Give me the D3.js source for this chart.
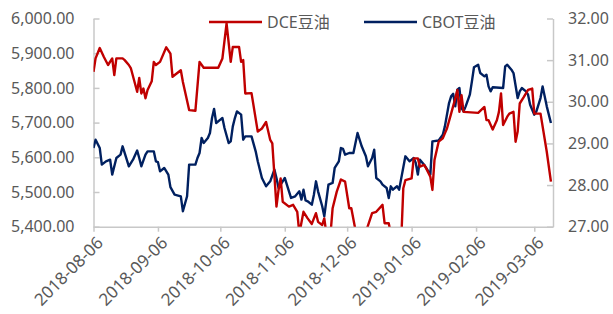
<!DOCTYPE html>
<html>
<head>
<meta charset="utf-8">
<script src="https://cdn.jsdelivr.net/npm/d3@7/dist/d3.min.js"></script>
<style>
body { margin: 0; background: #fff; }
svg text { font-family: "Noto Sans", "Noto Sans CJK SC", sans-serif; fill: #595959; font-size: 16px; }
.x.axis text { font-size: 17px; }
.axis path, .axis line { stroke: #c8c8c8; stroke-width: 1.5; }
.dce { fill: none; stroke: #c00000; stroke-width: 2.4; stroke-linejoin: round; }
.cbot { fill: none; stroke: #002060; stroke-width: 2.4; stroke-linejoin: round; }
</style>
</head>
<body>
<div id="chart"></div>
<script>
// DCE soybean oil (left axis, yuan/t)
const dceDates = [
  "2018-08-06","2018-08-07","2018-08-09","2018-08-11","2018-08-13","2018-08-15","2018-08-16","2018-08-17","2018-08-20","2018-08-21",
  "2018-08-23","2018-08-24","2018-08-27","2018-08-28","2018-08-29","2018-08-30","2018-08-31","2018-09-01","2018-09-03","2018-09-04",
  "2018-09-05","2018-09-07","2018-09-10","2018-09-12","2018-09-13","2018-09-17","2018-09-18","2018-09-21","2018-09-24","2018-09-26",
  "2018-09-28","2018-10-05","2018-10-07","2018-10-09","2018-10-11","2018-10-12","2018-10-15","2018-10-16","2018-10-17","2018-10-18",
  "2018-10-21","2018-10-24","2018-10-26","2018-10-28","2018-10-30","2018-10-31","2018-11-02","2018-11-03","2018-11-04","2018-11-05",
  "2018-11-08","2018-11-10","2018-11-12","2018-11-13","2018-11-15","2018-11-17","2018-11-19","2018-11-21","2018-11-22","2018-11-24",
  "2018-11-25","2018-11-26","2018-11-28","2018-11-29","2018-12-01","2018-12-03","2018-12-05","2018-12-07","2018-12-08","2018-12-10",
  "2018-12-12","2018-12-15","2018-12-18","2018-12-20","2018-12-23","2018-12-24","2018-12-26","2018-12-27","2018-12-31","2019-01-01",
  "2019-01-02","2019-01-03","2019-01-06","2019-01-07","2019-01-09","2019-01-10","2019-01-12","2019-01-13","2019-01-15","2019-01-16",
  "2019-01-17","2019-01-19","2019-01-21","2019-01-22","2019-01-23","2019-01-25","2019-01-27","2019-01-28","2019-01-29","2019-01-30",
  "2019-01-31","2019-02-07","2019-02-10","2019-02-11","2019-02-12","2019-02-14","2019-02-16","2019-02-17","2019-02-18","2019-02-19",
  "2019-02-21","2019-02-22","2019-02-24","2019-02-25","2019-02-26","2019-02-27","2019-03-01","2019-03-03","2019-03-05","2019-03-06",
  "2019-03-09","2019-03-12","2019-03-14"
];
const dceValues = [
  5846,5885,5915,5889,5866,5885,5837,5885,5885,5880,
  5866,5856,5789,5829,5784,5798,5770,5794,5819,5875,
  5866,5875,5917,5899,5832,5851,5817,5736,5734,5875,
  5858,5858,5885,5986,5875,5918,5918,5875,5880,5784,
  5785,5674,5683,5702,5650,5640,5458,5506,5539,5472,
  5458,5463,5443,5380,5443,5424,5408,5439,5414,5405,
  5424,5380,5380,5453,5501,5536,5530,5453,5453,5390,
  5380,5385,5439,5443,5463,5410,5410,5380,5370,5360,
  5511,5534,5539,5597,5597,5573,5578,5568,5544,5506,
  5592,5645,5655,5669,5683,5726,5770,5794,5731,5779,
  5731,5728,5745,5707,5707,5680,5707,5731,5784,5693,
  5717,5726,5731,5645,5674,5755,5774,5794,5798,5726,
  5726,5616,5530
];

// CBOT soybean oil (right axis, cents/lb)
const cbotDates = [
  "2018-08-06","2018-08-07","2018-08-09","2018-08-10","2018-08-12","2018-08-14","2018-08-15","2018-08-17","2018-08-19","2018-08-20",
  "2018-08-22","2018-08-23","2018-08-25","2018-08-27","2018-08-28","2018-08-29","2018-08-31","2018-09-01","2018-09-04","2018-09-05",
  "2018-09-06","2018-09-07","2018-09-09","2018-09-11","2018-09-12","2018-09-14","2018-09-17","2018-09-18","2018-09-20","2018-09-21",
  "2018-09-24","2018-09-25","2018-09-26","2018-09-27","2018-09-28","2018-09-30","2018-10-01","2018-10-02","2018-10-03","2018-10-04",
  "2018-10-06","2018-10-07","2018-10-08","2018-10-10","2018-10-11","2018-10-12","2018-10-13","2018-10-14","2018-10-16","2018-10-17",
  "2018-10-18","2018-10-21","2018-10-23","2018-10-24","2018-10-26","2018-10-28","2018-10-30","2018-11-01","2018-11-02","2018-11-03",
  "2018-11-05","2018-11-06","2018-11-07","2018-11-09","2018-11-11","2018-11-13","2018-11-14","2018-11-15","2018-11-16","2018-11-17",
  "2018-11-19","2018-11-20","2018-11-21","2018-11-22","2018-11-24","2018-11-25","2018-11-27","2018-11-29","2018-11-30","2018-12-02",
  "2018-12-03","2018-12-04","2018-12-05","2018-12-07","2018-12-09","2018-12-11","2018-12-13","2018-12-15","2018-12-16","2018-12-18",
  "2018-12-19","2018-12-20","2018-12-22","2018-12-23","2018-12-25","2018-12-26","2018-12-27","2018-12-28","2018-12-30","2018-12-31",
  "2019-01-03","2019-01-05","2019-01-07","2019-01-08","2019-01-09","2019-01-10","2019-01-12","2019-01-13","2019-01-15","2019-01-16",
  "2019-01-19","2019-01-21","2019-01-22","2019-01-24","2019-01-25","2019-01-26","2019-01-27","2019-01-28","2019-01-29","2019-01-30",
  "2019-01-31","2019-02-01","2019-02-03","2019-02-04","2019-02-05","2019-02-07","2019-02-08","2019-02-10","2019-02-11","2019-02-12",
  "2019-02-13","2019-02-14","2019-02-19","2019-02-20","2019-02-21","2019-02-23","2019-02-24","2019-02-26","2019-02-27","2019-02-28",
  "2019-03-02","2019-03-03","2019-03-04","2019-03-06","2019-03-07","2019-03-09","2019-03-10","2019-03-12","2019-03-14"
];
const cbotValues = [
  28.89,29.09,28.89,28.49,28.57,28.61,28.25,28.65,28.73,28.93,
  28.61,28.45,28.61,28.83,28.65,28.45,28.73,28.81,28.81,28.57,
  28.55,28.33,28.41,28.25,27.95,27.77,27.73,27.37,27.73,28.49,
  28.49,28.65,28.77,29.13,29.01,29.13,29.25,29.61,29.83,29.49,
  29.57,29.61,29.37,29.01,29.05,29.41,29.61,29.77,29.69,29.09,
  29.17,29.17,28.81,28.57,28.17,27.97,28.09,28.37,28.17,27.93,
  28.09,28.17,28.01,27.69,27.73,27.85,27.65,27.89,27.63,27.61,
  27.53,27.77,28.09,27.85,27.49,27.25,28.01,28.05,28.41,28.57,
  28.89,28.87,28.73,28.77,28.77,29.25,28.93,28.69,28.45,28.65,
  28.85,28.17,28.09,28.01,27.93,27.69,27.97,27.89,27.97,27.89,
  28.69,28.57,28.65,28.53,28.25,28.61,28.49,28.41,28.25,29.05,
  29.07,29.21,29.41,29.97,30.13,30.19,29.89,30.29,30.33,29.85,
  29.77,29.89,30.17,30.49,30.83,30.89,30.69,30.61,30.65,30.37,
  30.25,30.35,30.33,30.85,30.89,30.77,30.69,30.09,30.25,30.33,
  30.25,30.17,29.93,29.69,29.77,30.09,30.37,29.89,29.49
];

const xTickLabels = ["2018-08-06","2018-09-06","2018-10-06","2018-11-06","2018-12-06","2019-01-06","2019-02-06","2019-03-06"];
const xDomain = ["2018-08-06","2019-03-15"];
const leftTicks = [5400, 5500, 5600, 5700, 5800, 5900, 6000];
const rightTicks = [27, 28, 29, 30, 31, 32];
const seriesNames = ["DCE豆油", "CBOT豆油"];

class DualLiner {
    constructor(width, height, margin) {
        this.margin = margin;
        this.fullWidth = width;
        this.fullHeight = height;
        this.width = width - margin.left - margin.right;
        this.height = height - margin.top - margin.bottom;

        this.parseDate = d3.timeParse("%Y-%m-%d");
        this.formatDate = d3.timeFormat("%Y-%m-%d");

        this.dce = dceDates.map((d, i) => ({date: this.parseDate(d), value: dceValues[i]}));
        this.cbot = cbotDates.map((d, i) => ({date: this.parseDate(d), value: cbotValues[i]}));

        this.xScale = d3.scaleTime()
            .domain(xDomain.map(this.parseDate))
            .range([0, this.width]);
        this.yLeft = d3.scaleLinear()
            .domain([d3.min(leftTicks), d3.max(leftTicks)])
            .range([this.height, 0]);
        this.yRight = d3.scaleLinear()
            .domain([d3.min(rightTicks), d3.max(rightTicks)])
            .range([this.height, 0]);

        this.axisX = d3.axisBottom(this.xScale)
            .tickValues(xTickLabels.map(this.parseDate))
            .tickFormat(this.formatDate)
            .tickSizeInner(5).tickSizeOuter(0);
        this.axisLeft = d3.axisLeft(this.yLeft)
            .tickValues(leftTicks)
            .tickFormat(d3.format(",.2f"))
            .tickSizeInner(-6).tickSizeOuter(0).tickPadding(19);
        this.axisRight = d3.axisRight(this.yRight)
            .tickValues(rightTicks)
            .tickFormat(d3.format(".2f"))
            .tickSizeInner(-6).tickSizeOuter(0).tickPadding(15);

        this.lineDce = d3.line()
            .x(d => this.xScale(d.date))
            .y(d => this.yLeft(d.value));
        this.lineCbot = d3.line()
            .x(d => this.xScale(d.date))
            .y(d => this.yRight(d.value));
    }

    renderSvg(id) {
        this.root = d3.select(id).append("svg")
            .attr("width", this.fullWidth)
            .attr("height", this.fullHeight);
        this.svg = this.root.append("g")
            .attr("transform", "translate(" + this.margin.left + "," + this.margin.top + ")");
        this.svg.append("clipPath")
            .attr("id", "plot-clip")
            .append("rect")
            .attr("x", 0).attr("y", -2)
            .attr("width", this.width).attr("height", this.height + 2);
    }

    renderAxes() {
        this.svg.append("g")
            .attr("class", "x axis")
            .attr("transform", "translate(0," + this.height + ")")
            .call(this.axisX);
        // rotated date labels, end of text sits just under the tick
        this.svg.selectAll(".x text")
            .attr("x", 0).attr("y", 0).attr("dy", "0.35em")
            .style("text-anchor", "end")
            .attr("transform", "translate(6,13)rotate(-45)");

        this.svg.append("g")
            .attr("class", "y axis left")
            .call(this.axisLeft);

        this.svg.append("g")
            .attr("class", "y axis right")
            .attr("transform", "translate(" + this.width + ",0)")
            .call(this.axisRight);
    }

    renderLines() {
        const g = this.svg.append("g").attr("clip-path", "url(#plot-clip)");
        g.append("path").attr("class", "cbot").attr("d", this.lineCbot(this.cbot));
        g.append("path").attr("class", "dce").attr("d", this.lineDce(this.dce));
    }

    renderLegend(text, x, y, className) {
        this.root.append("line")
            .attr("class", className)
            .attr("x1", x).attr("x2", x + 53)
            .attr("y1", y).attr("y2", y);
        this.root.append("text")
            .attr("x", x + 58)
            .attr("y", y)
            .attr("dy", "0.35em")
            .text(text);
    }

    render(id) {
        this.renderSvg(id);
        this.renderAxes();
        this.renderLines();
        this.renderLegend(seriesNames[0], 209, 22, "dce");
        this.renderLegend(seriesNames[1], 364, 22, "cbot");
    }
}

const chart = new DualLiner(613, 314, {top: 18.5, right: 60, bottom: 87.3, left: 93.5});
chart.render("#chart");
</script>
</body>
</html>
